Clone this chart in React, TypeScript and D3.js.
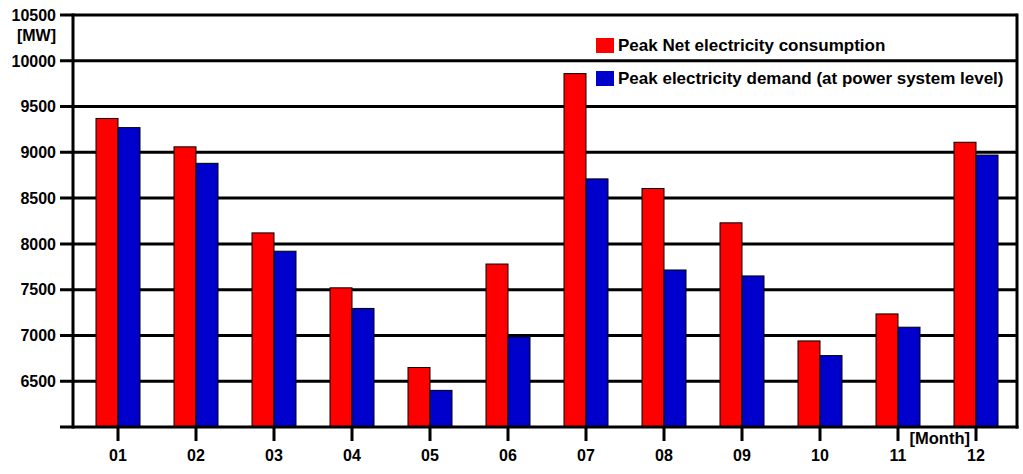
import React from "react";
import * as d3 from "d3";

const months = ["01", "02", "03", "04", "05", "06", "07", "08", "09", "10", "11", "12"];
const netConsumption = [9370, 9060, 8120, 7520, 6650, 7780, 9860, 8605, 8230, 6940, 7235, 9110];
const systemDemand = [9270, 8880, 7920, 7295, 6400, 6985, 8710, 7715, 7650, 6780, 7090, 8970];
const yTicks = [6500, 7000, 7500, 8000, 8500, 9000, 9500, 10000, 10500];
const seriesNames = ["Peak Net electricity consumption", "Peak electricity demand (at power system level)"];
const seriesColors = ["#ff0000", "#0000cc"];

const W = 1023;
const H = 474;
const left = 73;
const right = 1017;
const top = 15;
const bottom = 427;

export default function App() {
  const y = d3.scaleLinear().domain([6000, 10500]).range([bottom, top]);
  const x = d3.scaleBand<string>().domain(months).range([79, 1015]).padding(0);
  const bw = 22;
  const font = "'Liberation Sans', Arial, sans-serif";
  const center = (m: string) => (x(m) as number) + x.bandwidth() / 2;

  return (
    <svg width={W} height={H} style={{ position: "absolute", left: 0, top: 0, background: "#fff" }} fontFamily={font} fontWeight="bold">
      {/* gridlines and y ticks */}
      {yTicks.map((t) => (
        <g key={t}>
          <line x1={60} x2={right} y1={y(t)} y2={y(t)} stroke="#000" strokeWidth={3} />
          <text x={56} y={y(t)} dy="0.36em" textAnchor="end" fontSize={16} fill="#000">
            {t}
          </text>
        </g>
      ))}
      <text x={56} y={y(10500) + 20} dy="0.36em" textAnchor="end" fontSize={16} fill="#000">
        [MW]
      </text>
      {/* bars */}
      {months.map((m, i) => (
        <g key={m}>
          <rect x={center(m) - bw} y={y(netConsumption[i])} width={bw} height={bottom - y(netConsumption[i])} fill={seriesColors[0]} stroke="#000" strokeWidth={1} />
          <rect x={center(m)} y={y(systemDemand[i])} width={bw} height={bottom - y(systemDemand[i])} fill={seriesColors[1]} stroke="#000" strokeWidth={1} />
        </g>
      ))}
      {/* axes */}
      <line x1={left} x2={left} y1={top - 1.5} y2={bottom + 1.5} stroke="#000" strokeWidth={3} />
      <line x1={right} x2={right} y1={top - 1.5} y2={bottom + 1.5} stroke="#000" strokeWidth={3} />
      <line x1={60} x2={right + 1.5} y1={bottom} y2={bottom} stroke="#000" strokeWidth={3} />
      {months.map((m) => (
        <g key={"t" + m}>
          <line x1={center(m)} x2={center(m)} y1={bottom} y2={441} stroke="#000" strokeWidth={3} />
          <text x={center(m)} y={461} textAnchor="middle" fontSize={16} fill="#000">
            {m}
          </text>
        </g>
      ))}
      <text x={970} y={444} textAnchor="end" fontSize={16.5} fill="#000">
        [Month]
      </text>
      {/* legend */}
      {seriesNames.map((s, i) => (
        <g key={s} transform={`translate(596, ${38 + i * 33})`}>
          <rect x={0} y={0} width={18} height={15} fill={seriesColors[i]} />
          <text x={22} y={13} fontSize={17} fill="#000">
            {s}
          </text>
        </g>
      ))}
    </svg>
  );
}
